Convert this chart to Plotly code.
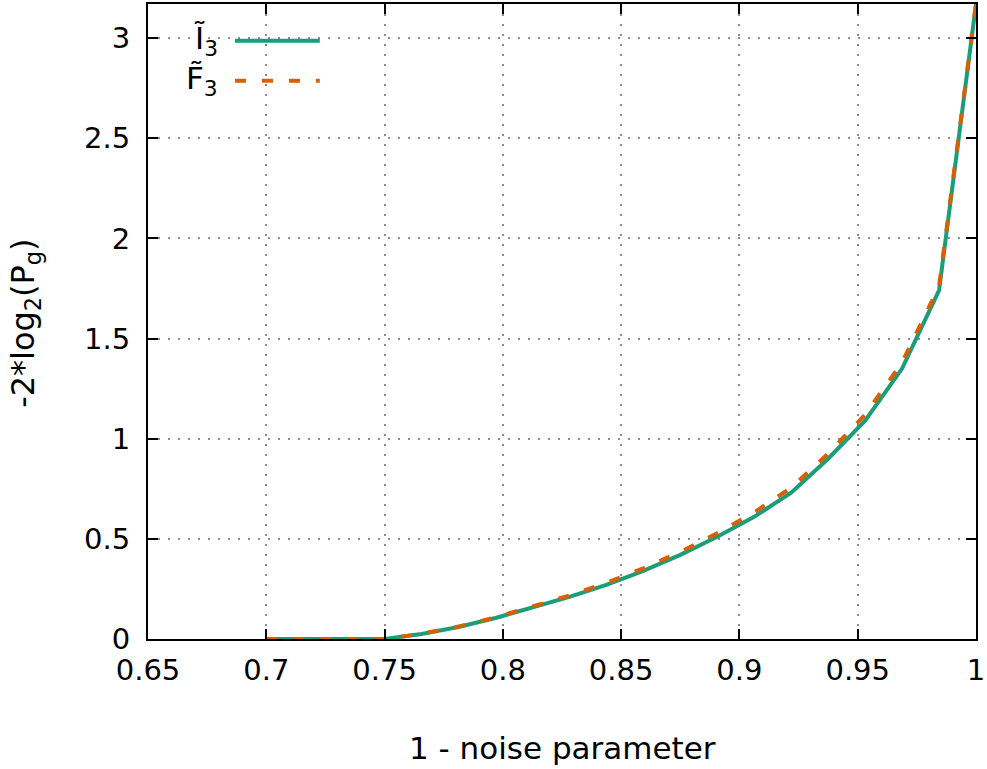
import plotly.graph_objects as go

x_vals = [0.7, 0.703125, 0.71875, 0.734375, 0.75, 0.765625, 0.78125, 0.796875,
          0.8125, 0.828125, 0.84375, 0.859375, 0.875, 0.890625, 0.90625,
          0.921875, 0.9375, 0.953125, 0.96875, 0.984375, 1.0]
i3_vals = [0.0, 0.0, 0.0, 0.0, 0.0, 0.025, 0.06, 0.105,
           0.155, 0.21, 0.27, 0.34, 0.42, 0.51, 0.61,
           0.73, 0.90, 1.09, 1.35, 1.74, 3.17]
f3_vals = [0.0, 0.0, 0.0, 0.0, 0.0, 0.026, 0.062, 0.108,
           0.16, 0.217, 0.28, 0.353, 0.435, 0.528, 0.632,
           0.755, 0.925, 1.12, 1.38, 1.76, 3.17]

x_ticks = [0.65, 0.7, 0.75, 0.8, 0.85, 0.9, 0.95, 1.0]
x_tick_text = ["0.65", "0.7", "0.75", "0.8", "0.85", "0.9", "0.95", "1"]
y_ticks = [0, 0.5, 1, 1.5, 2, 2.5, 3]
y_tick_text = ["0", "0.5", "1", "1.5", "2", "2.5", "3"]

GREEN = "#1b9e77"
ORANGE = "#d95f02"
FONT = "DejaVu Sans"
TICK_SIZE = 29
TITLE_SIZE = 31

fig = go.Figure()
fig.add_trace(go.Scatter(x=x_vals, y=i3_vals, mode="lines",
                         line=dict(color=GREEN, width=4), name="Ĩ3"))
fig.add_trace(go.Scatter(x=x_vals, y=f3_vals, mode="lines",
                         line=dict(color=ORANGE, width=4, dash="11px,16px"), name="F̃3"))

axis_common = dict(showline=True, linecolor="black", linewidth=2, mirror="ticks",
                   ticks="inside", ticklen=10, tickwidth=2, tickcolor="black",
                   showgrid=True, gridcolor="#8c8c8c", gridwidth=1.5, griddash="2px,8px",
                   zeroline=False, tickfont=dict(family=FONT, size=TICK_SIZE, color="black"))

fig.update_xaxes(range=[0.65, 1.0], tickvals=x_ticks, ticktext=x_tick_text,
                 ticklabelstandoff=4, **axis_common)
fig.update_yaxes(range=[0, 3.17], tickvals=y_ticks, ticktext=y_tick_text,
                 ticklabelstandoff=10, **axis_common)

# axis titles
fig.add_annotation(x=0.5, y=-0.172, xref="paper", yref="paper", text="1 - noise parameter",
                   showarrow=False, xanchor="center", yanchor="middle",
                   font=dict(family=FONT, size=TITLE_SIZE, color="black"))
fig.add_annotation(x=-0.148, y=0.497, xref="paper", yref="paper",
                   text="-2*log<sub>2</sub>(P<sub>g</sub>)", textangle=-90,
                   showarrow=False, xanchor="center", yanchor="middle",
                   font=dict(family=FONT, size=TITLE_SIZE + 1, color="black"))

# gnuplot-style legend: text then line sample
leg_items = [("Ĩ<sub>3</sub>", GREEN, "solid", 0.942), ("F̃<sub>3</sub>", ORANGE, "11px,16px", 0.879)]
for txt, col, dash, yp in leg_items:
    fig.add_annotation(x=0.087, y=yp, xref="paper", yref="paper", text=txt, showarrow=False,
                       xanchor="right", yanchor="middle", font=dict(family=FONT, size=TITLE_SIZE, color="black"))
    fig.add_shape(type="line", xref="paper", yref="paper", x0=0.105, x1=0.2075, y0=yp, y1=yp,
                  line=dict(color=col, width=4, dash=dash))

fig.update_layout(width=987, height=769, margin=dict(l=148, r=10, t=2, b=130),
                  plot_bgcolor="white", paper_bgcolor="white", showlegend=False)

fig.write_html("out.html")
